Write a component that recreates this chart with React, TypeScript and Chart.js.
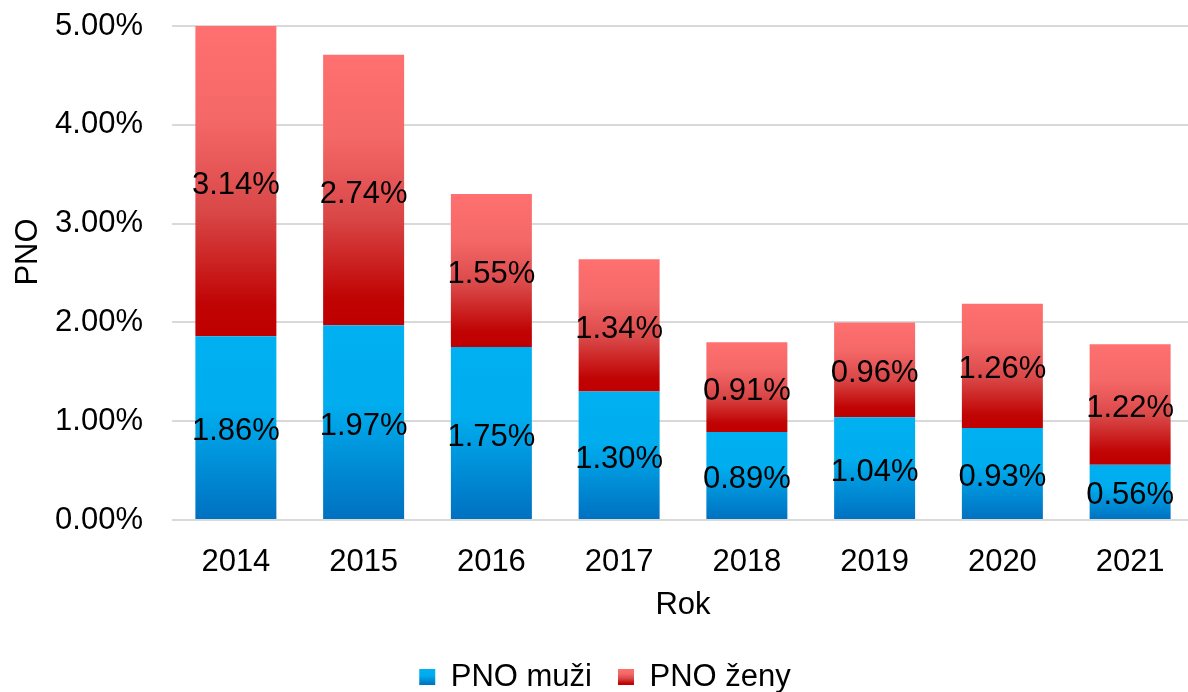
import React, { useEffect, useRef } from 'react';
import { Chart, registerables } from 'chart.js';

Chart.register(...registerables);

const years = ['2014', '2015', '2016', '2017', '2018', '2019', '2020', '2021'];
const pnoMuzi = [1.86, 1.97, 1.75, 1.3, 0.89, 1.04, 0.93, 0.56];
const pnoZeny = [3.14, 2.74, 1.55, 1.34, 0.91, 0.96, 1.26, 1.22];
const seriesNames = ['PNO muži', 'PNO ženy'];
const yMin = 0;
const yMax = 5;
const yStep = 1;
const xTitle = 'Rok';
const yTitle = 'PNO';

const FONT = "'Liberation Sans', Arial, Helvetica, sans-serif";
const FS = 31;
const BOX = 16;

const blueStops: [number, string][] = [
  [0, '#00B0F0'],
  [0.4, '#00ADEE'],
  [1, '#0070C0'],
];
const redStops: [number, string][] = [
  [0, '#FF7070'],
  [0.3, '#F56868'],
  [0.6, '#D94747'],
  [0.9, '#C00303'],
  [1, '#C00000'],
];

function makeGradient(c: CanvasRenderingContext2D, y0: number, y1: number, stops: [number, string][]) {
  const g = c.createLinearGradient(0, y0, 0, y1);
  stops.forEach(([o, col]) => g.addColorStop(o, col));
  return g;
}

export default function App() {
  const ref = useRef<HTMLCanvasElement | null>(null);

  useEffect(() => {
    const canvas = ref.current;
    if (!canvas) return;

    const segBg = (stops: [number, string][], dsIndex: number) => (ctx: any) => {
      const fallback = stops[Math.floor(stops.length / 2)][1];
      if (ctx.type !== 'data') return fallback;
      const chart = ctx.chart;
      const ys = chart.scales && chart.scales.y;
      if (!ys || ys.top == null) return fallback;
      const i = ctx.dataIndex;
      const base = dsIndex === 0 ? 0 : pnoMuzi[i];
      const top = base + (dsIndex === 0 ? pnoMuzi[i] : pnoZeny[i]);
      const y0 = ys.getPixelForValue(top);
      const y1 = ys.getPixelForValue(base);
      if (!isFinite(y0) || !isFinite(y1) || y0 === y1) return fallback;
      return makeGradient(chart.ctx, y0, y1, stops);
    };

    const dataLabels = {
      id: 'dataLabels',
      afterDatasetsDraw(chart: any) {
        const c = chart.ctx;
        c.save();
        c.font = `${FS}px ${FONT}`;
        c.fillStyle = '#000000';
        c.textAlign = 'center';
        c.textBaseline = 'middle';
        chart.data.datasets.forEach((ds: any, di: number) => {
          const meta = chart.getDatasetMeta(di);
          meta.data.forEach((el: any, i: number) => {
            const v = ds.data[i];
            const y = (el.y + el.base) / 2 + 4;
            c.fillText(v.toFixed(2) + '%', el.x, y);
          });
        });
        c.restore();
      },
    };

    const yTitlePlugin = {
      id: 'yTitlePlugin',
      afterDraw(chart: any) {
        const c = chart.ctx;
        c.save();
        c.font = `${FS}px ${FONT}`;
        c.fillStyle = '#000000';
        c.textAlign = 'center';
        c.textBaseline = 'middle';
        c.translate(28, 252);
        c.rotate(-Math.PI / 2);
        c.fillText(yTitle, 0, 0);
        c.restore();
      },
    };

    const legendTweak = {
      id: 'legendTweak',
      beforeLayout(chart: any) {
        const lg = chart.legend;
        if (lg && !lg.__patched) {
          const orig = lg.fit.bind(lg);
          lg.fit = function () {
            orig();
            this.height -= 10.5;
          };
          lg.__patched = true;
        }
      },
      afterLayout(chart: any) {
        const lg = chart.legend;
        if (lg) {
          lg.left += 8;
          lg.right += 8;
        }
      },
      beforeDraw(chart: any) {
        const lg = chart.legend;
        if (!lg || !lg.legendItems) return;
        const pad = lg.options.labels.padding;
        const boxH = lg.options.labels.boxHeight;
        const boxTop = lg.top + pad + (FS - boxH) / 2;
        lg.legendItems.forEach((it: any, i: number) => {
          it.fillStyle = makeGradient(chart.ctx, boxTop, boxTop + boxH, i === 0 ? blueStops : redStops);
        });
      },
    };

    const chart = new Chart(canvas, {
      type: 'bar',
      data: {
        labels: years,
        datasets: [
          {
            label: seriesNames[0],
            data: pnoMuzi,
            backgroundColor: segBg(blueStops, 0) as any,
            borderWidth: 0,
            barPercentage: 0.634,
            categoryPercentage: 1,
          },
          {
            label: seriesNames[1],
            data: pnoZeny,
            backgroundColor: segBg(redStops, 1) as any,
            borderWidth: 0,
            barPercentage: 0.634,
            categoryPercentage: 1,
          },
        ],
      },
      options: {
        responsive: false,
        animation: false,
        devicePixelRatio: 1,
        layout: { padding: { top: 26, right: 0, bottom: 0, left: 0 } },
        plugins: {
          tooltip: { enabled: false },
          legend: {
            position: 'bottom',
            labels: {
              font: { family: FONT, size: FS },
              color: '#000000',
              boxWidth: BOX,
              boxHeight: BOX,
              padding: 26,
            },
          },
        },
        scales: {
          x: {
            stacked: true,
            grid: { display: false },
            border: { display: false },
            ticks: {
              font: { family: FONT, size: FS },
              color: '#000000',
              padding: 16,
              maxRotation: 0,
            },
            title: {
              display: true,
              text: xTitle,
              font: { family: FONT, size: FS },
              color: '#000000',
              padding: { top: 0, bottom: 11 },
            },
            afterFit(scale: any) {
              scale.height = 115.5;
            },
          },
          y: {
            stacked: true,
            min: yMin,
            max: yMax,
            grid: { color: '#D9D9D9', lineWidth: 2, drawTicks: false },
            border: { display: false },
            ticks: {
              stepSize: yStep,
              font: { family: FONT, size: FS },
              color: '#000000',
              padding: 29,
              callback: (v: any) => Number(v).toFixed(2) + '%',
            },
            title: { display: false },
            afterFit(scale: any) {
              scale.width = 172;
              scale.paddingTop = 0;
              scale.paddingBottom = 0;
            },
          },
        },
      },
      plugins: [dataLabels, legendTweak, yTitlePlugin],
    });

    return () => chart.destroy();
  }, []);

  return (
    <div
      style={{
        position: 'absolute',
        left: 0,
        top: 0,
        width: 1188,
        height: 692,
        overflow: 'hidden',
        background: '#ffffff',
      }}
    >
      <canvas ref={ref} width={1194} height={692} />
    </div>
  );
}
